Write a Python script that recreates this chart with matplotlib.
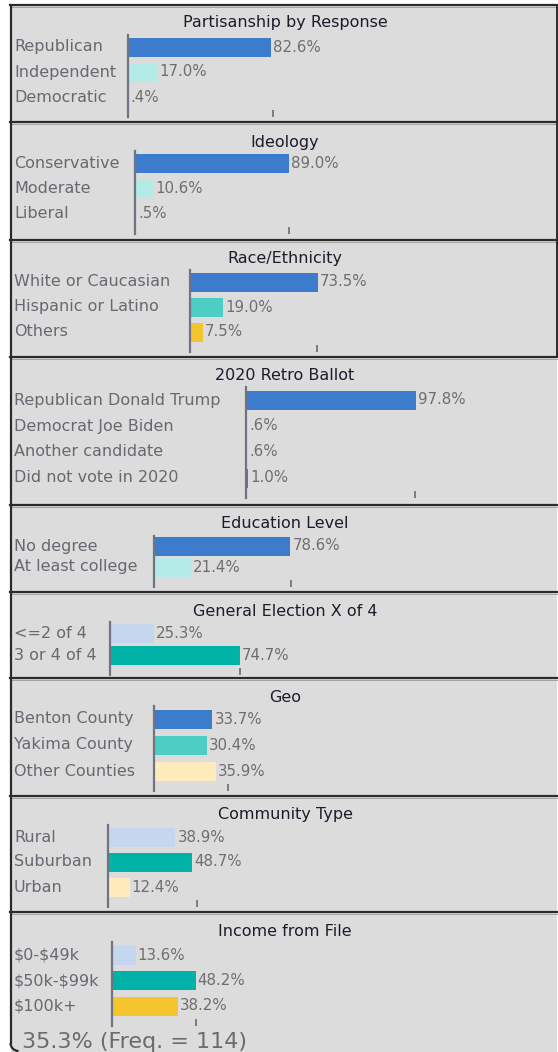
import matplotlib
matplotlib.use("Agg")
import matplotlib.pyplot as plt
import matplotlib.transforms as mtransforms
from matplotlib.lines import Line2D
from matplotlib.patches import Rectangle, Arc

# ---- data ----
titles = ["Partisanship by Response", "Ideology", "Race/Ethnicity", "2020 Retro Ballot",
          "Education Level", "General Election X of 4", "Geo", "Community Type",
          "Income from File"]

categories = [
    ["Republican", "Independent", "Democratic"],
    ["Conservative", "Moderate", "Liberal"],
    ["White or Caucasian", "Hispanic or Latino", "Others"],
    ["Republican Donald Trump", "Democrat Joe Biden", "Another candidate", "Did not vote in 2020"],
    ["No degree", "At least college"],
    ["<=2 of 4", "3 or 4 of 4"],
    ["Benton County", "Yakima County", "Other Counties"],
    ["Rural", "Suburban", "Urban"],
    ["$0-$49k", "$50k-$99k", "$100k+"],
]

values = [
    [82.6, 17.0, 0.4],
    [89.0, 10.6, 0.5],
    [73.5, 19.0, 7.5],
    [97.8, 0.6, 0.6, 1.0],
    [78.6, 21.4],
    [25.3, 74.7],
    [33.7, 30.4, 35.9],
    [38.9, 48.7, 12.4],
    [13.6, 48.2, 38.2],
]

DB, LC, MT, YE, PY, LB, TE = "#3d7bcd", "#b5ebe6", "#4ecdc4", "#f5c52f", "#fdebbb", "#c4d7ef", "#00b2a7"
bar_colors = [
    [DB, LC, LC],
    [DB, LC, LC],
    [DB, MT, YE],
    [DB, DB, DB, DB],
    [DB, LC],
    [LB, TE],
    [DB, MT, PY],
    [LB, TE, PY],
    [LB, TE, YE],
]

tick_values = [83.6, 88.8, 73.2, 97.4, 79.0, 75.0, 42.7, 51.5, 48.6]
footer = "35.3% (Freq. = 114)"

# ---- layout (pixels) ----
W, H = 558, 1052
panel_edges = [5, 122, 240, 357, 505, 592, 678, 796, 912]
title_y = [23, 142, 259, 375, 523, 611, 697, 815, 932]
row0_y = [47, 164, 282, 400, 546, 633, 719, 837, 955]
row_step = [25, 25, 25, 26, 21, 22, 26, 25, 25.5]
axis_x = [128, 135, 190, 246, 154, 110, 154, 108, 112]
px_per_pct = 1.735
right_px = 557
bottom_pad = 20

BG = "#dcdcdc"
LABEL_C = "#6b6670"
VALUE_C = "#6e6e6e"
TITLE_C = "#1e1b2a"
FS = 11.5

plt.rcParams["font.family"] = ["DejaVu Sans"]
plt.rcParams["text.parse_math"] = False
fig = plt.figure(figsize=(W / 100, H / 100), dpi=100)
fig.patch.set_facecolor("white")


def fx(x):
    return x / W


def fy(y):
    return 1 - y / H


# gray background of the tooltip box
fig.add_artist(Rectangle((fx(11), 0), fx(right_px) - fx(11), fy(5), transform=fig.transFigure,
                         facecolor=BG, edgecolor="none", zorder=0))

for p, title in enumerate(titles):
    cats = categories[p]
    vals = values[p]
    n = len(cats)
    step = row_step[p]
    top = row0_y[p] - step / 2
    bottom = row0_y[p] + (n - 1) * step + bottom_pad
    ax = fig.add_axes([fx(axis_x[p]), fy(bottom), fx(right_px) - fx(axis_x[p]),
                       (bottom - top) / H])
    ax.set_facecolor("none")
    ypos = list(range(n))
    ax.barh(ypos, vals, height=19 / step, color=bar_colors[p], edgecolor="none")
    ax.set_xlim(0, (right_px - axis_x[p]) / px_per_pct)
    ax.set_ylim(n - 1 + bottom_pad / step, -0.5)
    for s in ["top", "right", "bottom"]:
        ax.spines[s].set_visible(False)
    ax.spines["left"].set_color("#6f7480")
    ax.spines["left"].set_linewidth(1.6)
    ax.set_yticks([])
    ax.set_xticks([tick_values[p]])
    ax.tick_params(axis="x", direction="in", length=5, width=1.3, color="#6f7480",
                   labelbottom=False)

    for i, v in enumerate(vals):
        lab = f"{v:.1f}%"
        if lab.startswith("0"):
            lab = lab[1:]
        ax.annotate(lab, (v, i), xytext=(1.5, 0), textcoords="offset points",
                    va="center", ha="left", fontsize=10.8, color=VALUE_C)

    tr = mtransforms.blended_transform_factory(fig.transFigure, ax.transData)
    for i, c in enumerate(cats):
        ax.text(fx(14), i, c, transform=tr, va="center", ha="left", fontsize=FS,
                color=LABEL_C, clip_on=False)

    fig.text(fx(285), fy(title_y[p]), title, ha="center", va="center", fontsize=FS,
             color=TITLE_C)

# panel separators and frame
for y in panel_edges:
    fig.add_artist(Line2D([fx(10), fx(558)], [fy(y), fy(y)], color="#2b2b2b", lw=1.6,
                          transform=fig.transFigure))
    fig.add_artist(Line2D([fx(10), fx(558)], [fy(y + 1.8), fy(y + 1.8)], color="#9a9a9a",
                          lw=0.6, transform=fig.transFigure))
fig.add_artist(Line2D([fx(10.5), fx(10.5)], [fy(5), fy(1043)], color="#2b2b2b", lw=1.6,
                      transform=fig.transFigure))
fig.add_artist(Line2D([fx(557), fx(557)], [fy(5), fy(357)], color="#2b2b2b", lw=1.4,
                      transform=fig.transFigure))
fig.add_artist(Arc((fx(18.5), fy(1043)), 16 / W, 16 / H, theta1=180, theta2=270,
                   color="#2b2b2b", lw=1.6, transform=fig.transFigure))

fig.text(fx(22), fy(1048), footer, ha="left", va="baseline", fontsize=16, color="#6b6b6b")

fig.savefig("out.png", dpi=100, facecolor=fig.get_facecolor())
